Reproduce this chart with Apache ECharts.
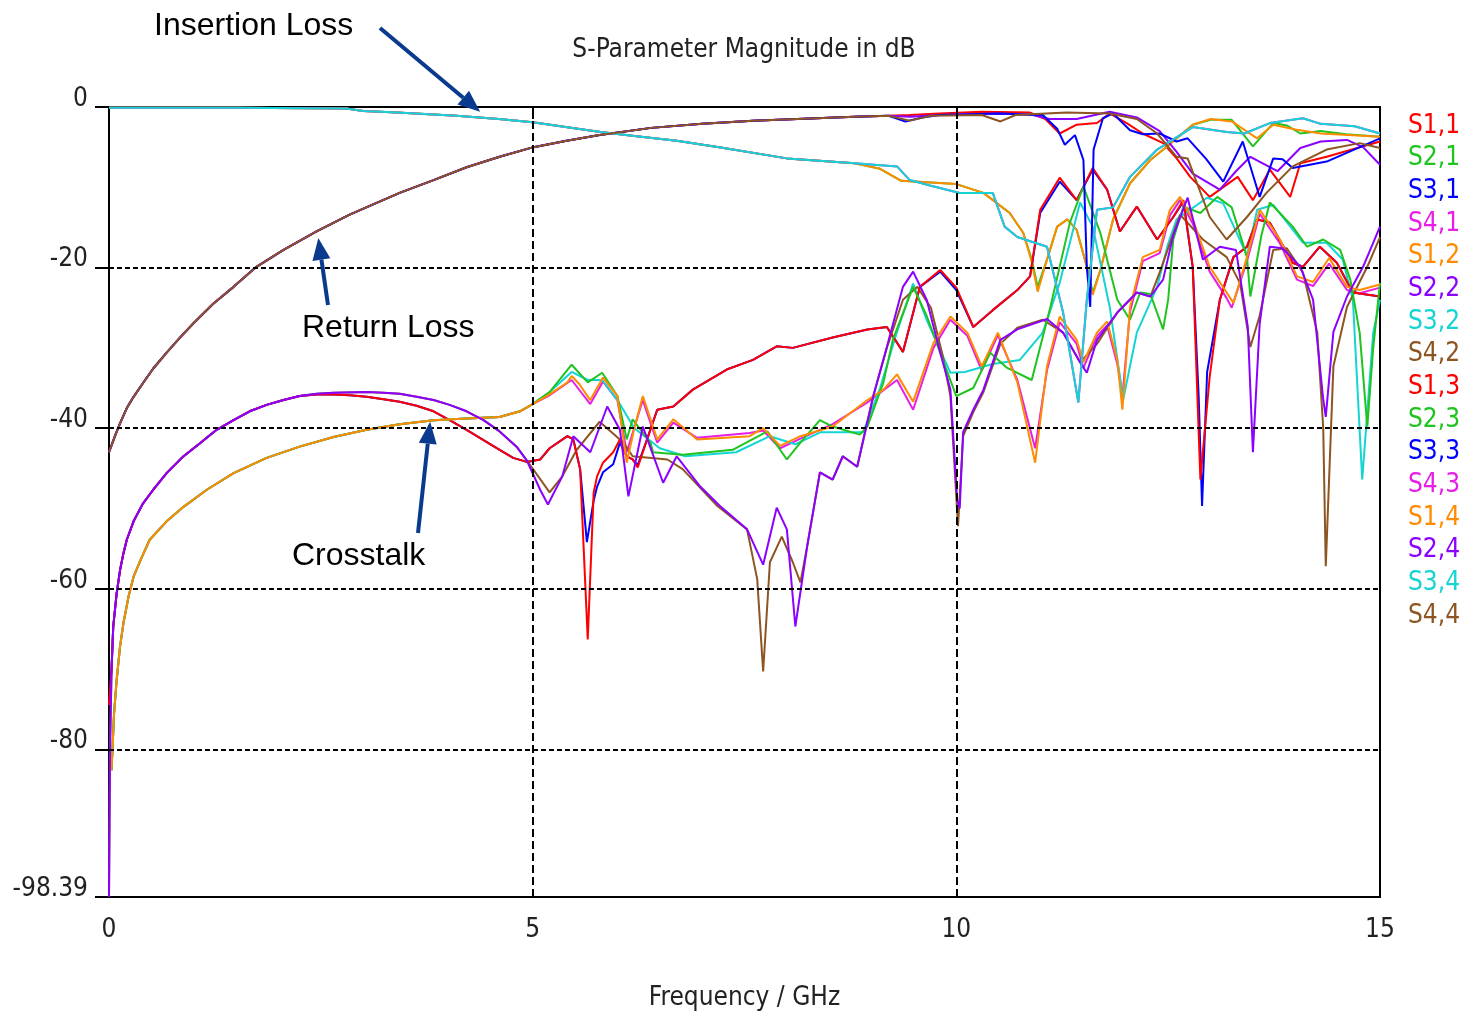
<!DOCTYPE html>
<html>
<head>
<meta charset="utf-8">
<title>S-Parameter Magnitude in dB</title>
<script src="https://cdn.jsdelivr.net/npm/echarts@6/dist/echarts.min.js"></script>
<style>
  html, body { margin: 0; padding: 0; background: #ffffff; }
  #chart { width: 1468px; height: 1013px; }
</style>
</head>
<body>
<div id="chart"></div>
<script>
// ---- Frequency sweep results: [frequency GHz, magnitude dB] ----

// Return loss (reflection) — common low-frequency trace, then per-port tails
const rlBase = [[0,-43],[0.07,-41],[0.13,-39.4],[0.21,-37.5],[0.29,-36.1],[0.4,-34.4],[0.52,-32.6],[0.68,-30.6],[0.84,-28.7],[1.0,-26.9],[1.23,-24.5],[1.47,-22.4],[1.74,-19.9],[2.06,-17.8],[2.45,-15.5],[2.84,-13.4],[3.43,-10.7],[3.83,-9.1],[4.22,-7.5],[4.61,-6.2],[5.01,-5.0],[5.4,-4.2],[5.79,-3.5],[6.4,-2.6],[7.0,-2.1],[7.6,-1.7],[8.2,-1.45],[8.8,-1.2],[9.2,-1.1]];
const s11Tail = [[9.45,-1.0],[9.8,-0.8],[10.3,-0.6],[10.87,-0.7],[11.05,-1.5],[11.22,-3.3],[11.42,-2.2],[11.66,-2.0],[11.81,-0.8],[12.01,-2.0],[12.2,-3.3],[12.44,-4.5],[12.6,-6.4],[12.76,-8.7],[12.99,-11.2],[13.32,-8.7],[13.5,-11.6],[13.7,-7.8],[13.94,-11.2],[14.06,-7.0],[14.37,-6.2],[14.7,-5.2],[15.0,-4.3]];
const s22Tail = [[9.45,-1.2],[9.8,-1.0],[10.5,-0.8],[10.9,-1.0],[11.1,-1.5],[11.42,-1.5],[11.81,-0.6],[12.13,-1.3],[12.4,-3.0],[12.6,-5.6],[12.79,-8.3],[13.11,-10.3],[13.3,-8.0],[13.47,-6.2],[13.79,-8.0],[14.06,-5.1],[14.3,-4.3],[14.61,-4.1],[14.8,-5.0],[15.0,-7.2]];
const s33Tail = [[9.4,-1.8],[9.6,-1.3],[9.8,-1.0],[10.5,-0.8],[11.02,-1.0],[11.19,-2.7],[11.28,-4.7],[11.4,-3.5],[11.5,-6.6],[11.54,-19.9],[11.58,-24.9],[11.62,-5.3],[11.73,-1.4],[11.85,-0.8],[12.05,-2.9],[12.2,-3.4],[12.4,-3.3],[12.6,-4.3],[12.73,-3.9],[12.95,-6.5],[13.15,-9.3],[13.38,-4.3],[13.58,-11.2],[13.74,-6.4],[13.85,-6.5],[13.97,-7.6],[14.37,-6.8],[15.0,-3.9]];
const s44Tail = [[9.45,-1.7],[9.7,-1.1],[10.3,-1.0],[10.52,-1.8],[10.7,-1.0],[11.3,-0.7],[11.81,-0.8],[12.13,-1.5],[12.37,-3.3],[12.6,-6.2],[12.73,-6.4],[12.99,-13.7],[13.19,-16.5],[13.43,-13.7],[13.66,-10.7],[13.97,-7.4],[14.37,-5.3],[14.76,-4.5],[15.0,-5.1]];

// Insertion loss (through paths)
const ilBase = [[0,-0.1],[1.5,-0.1],[2.8,-0.2],[3.0,-0.5],[3.4,-0.7],[4.1,-1.1],[4.6,-1.5],[5.0,-1.9],[5.8,-3.1],[6.2,-3.6],[6.7,-4.2],[7.2,-5.0],[8.0,-6.4],[8.8,-7.0]];
const s21Tail = [[9.1,-7.7],[9.35,-9.2],[9.7,-9.4],[10.0,-9.6],[10.32,-10.7],[10.63,-13.2],[10.79,-15.7],[10.89,-19],[10.96,-22.4],[11.07,-19],[11.19,-14.9],[11.31,-14.0],[11.42,-15.3],[11.54,-19.9],[11.61,-23.1],[11.7,-20.3],[11.85,-14.0],[12.05,-9.5],[12.29,-6.6],[12.49,-4.9],[12.79,-2.2],[13.0,-1.6],[13.25,-1.6],[13.5,-4.9],[13.74,-2.0],[13.9,-2.3],[14.06,-3.3],[14.3,-3.0],[14.6,-3.4],[15.0,-3.7]];
const s12Tail = [[9.1,-7.7],[9.35,-9.2],[9.7,-9.4],[10.0,-9.6],[10.32,-10.7],[10.63,-13.2],[10.79,-15.7],[10.89,-19.3],[10.96,-23.0],[11.07,-19],[11.19,-14.9],[11.31,-14.0],[11.42,-15.3],[11.54,-19.9],[11.61,-23.4],[11.7,-20.3],[11.85,-14.0],[12.05,-9.5],[12.29,-6.6],[12.49,-4.9],[12.79,-2.2],[13.0,-1.5],[13.25,-1.8],[13.55,-3.9],[13.74,-2.2],[14.0,-2.8],[14.3,-3.3],[15.0,-3.7]];
const s34Tail = [[9.3,-7.4],[9.45,-9.1],[9.7,-9.8],[10.04,-10.7],[10.43,-10.7],[10.57,-14.9],[10.72,-16.2],[11.07,-17.4],[11.26,-25.6],[11.44,-36.8],[11.54,-24],[11.66,-12.8],[11.85,-12.5],[12.05,-8.7],[12.37,-5.3],[12.79,-2.5],[13.19,-3.1],[13.4,-3.3],[13.7,-2.0],[14.09,-1.4],[14.3,-2.1],[14.7,-2.4],[15.0,-3.3]];

// Far-end crosstalk
const fextBase = [[0.03,-82.6],[0.06,-75.5],[0.09,-71.4],[0.13,-67.2],[0.17,-64.3],[0.23,-61.0],[0.29,-58.5],[0.39,-56.0],[0.48,-53.9],[0.68,-51.6],[0.88,-49.8],[1.15,-47.7],[1.47,-45.6],[1.86,-43.7],[2.25,-42.3],[2.65,-41.1],[3.04,-40.2],[3.43,-39.5],[3.83,-39.0],[4.22,-38.8],[4.61,-38.6],[4.85,-37.9]];
const s14Tail = [[5.0,-37.0],[5.2,-35.8],[5.41,-34.3],[5.46,-33.5],[5.55,-34.5],[5.68,-36.5],[5.83,-33.7],[6.0,-36],[6.11,-44.3],[6.2,-40],[6.3,-36],[6.47,-41.4],[6.66,-38.9],[6.94,-41.4],[7.56,-41],[7.72,-40],[7.92,-42.2],[8.16,-41],[8.54,-39.8],[8.95,-36.5],[9.14,-35.2],[9.3,-33.3],[9.49,-36.7],[9.73,-29.4],[9.93,-26.1],[10.13,-28.1],[10.3,-32.3],[10.49,-28.1],[10.72,-34.3],[10.93,-44.3],[11.07,-32.3],[11.22,-26.1],[11.42,-29],[11.5,-31.8],[11.66,-28.1],[11.78,-26.7],[11.9,-31.5],[11.96,-37.7],[12.05,-24.9],[12.2,-18.7],[12.4,-17.8],[12.52,-12.8],[12.64,-11.2],[12.79,-14.0],[12.99,-19.9],[13.19,-23.1],[13.27,-24.4],[13.43,-18.7],[13.58,-12.8],[13.82,-16.5],[14.02,-21.1],[14.21,-21.8],[14.4,-18.8],[14.61,-22.4],[14.76,-22.8],[15.0,-22.1]];
const s41Tail = [[5.0,-37.0],[5.2,-35.9],[5.46,-34],[5.68,-37],[5.83,-34.2],[6.0,-36.5],[6.11,-43],[6.3,-36.5],[6.47,-41.8],[6.66,-39.3],[6.94,-41.2],[7.56,-40.6],[7.72,-40.3],[7.92,-42.5],[8.16,-41.3],[8.54,-39.5],[8.95,-36.8],[9.3,-34],[9.49,-37.7],[9.73,-30],[9.93,-26.5],[10.13,-28.5],[10.3,-32.8],[10.49,-28.4],[10.72,-34],[10.93,-42.5],[11.07,-32.8],[11.22,-26.8],[11.42,-29.5],[11.5,-32.5],[11.66,-28.5],[11.78,-27.2],[11.9,-32],[11.96,-36],[12.05,-25.5],[12.2,-19.2],[12.4,-18.2],[12.52,-13.5],[12.64,-11.6],[12.79,-14.5],[12.99,-20.5],[13.19,-23.8],[13.25,-25],[13.43,-19.2],[13.58,-13.3],[13.82,-17],[14.02,-21.5],[14.21,-22.3],[14.4,-19.5],[14.61,-22.8],[14.76,-23.2],[15.0,-22.5]];
const s23Tail = [[5.0,-37.0],[5.2,-35.5],[5.46,-32.1],[5.65,-34.3],[5.82,-33.1],[6.0,-36],[6.11,-41.4],[6.18,-38.9],[6.39,-41.8],[6.42,-43],[6.77,-43.3],[7.36,-42.7],[7.77,-40.4],[8.0,-43.9],[8.16,-41.8],[8.39,-39],[8.54,-39.8],[8.86,-40.8],[8.95,-39.8],[9.14,-34.3],[9.25,-29],[9.49,-22.4],[9.65,-26],[9.84,-31.5],[10.0,-36],[10.2,-35],[10.4,-30.6],[10.6,-32.5],[10.89,-34],[11.11,-24.9],[11.34,-14.4],[11.5,-9.9],[11.7,-15.7],[11.9,-24],[12.05,-26.5],[12.17,-23.1],[12.29,-23.3],[12.44,-27.7],[12.5,-24],[12.56,-16.5],[12.68,-12.4],[12.88,-13.2],[13.08,-11.2],[13.25,-12.5],[13.43,-18.7],[13.47,-23.6],[13.6,-16],[13.7,-11.9],[13.97,-14.9],[14.14,-17.4],[14.33,-16.5],[14.53,-17.8],[14.65,-21.5],[14.76,-28.1],[14.85,-39.8],[14.92,-30],[15.0,-21.9]];
const s32Tail = [[5.0,-37.0],[5.2,-35.5],[5.46,-33],[5.65,-34],[5.82,-34],[6.0,-36.5],[6.2,-40],[6.5,-42.5],[6.8,-43.5],[7.4,-43],[7.8,-41],[8.1,-42],[8.4,-40.5],[8.9,-40.5],[9.1,-35],[9.3,-28],[9.49,-22],[9.65,-26.5],[9.84,-31],[9.93,-33.1],[10.1,-33],[10.43,-32],[10.75,-31.5],[11.02,-28.1],[11.22,-21.9],[11.46,-11.9],[11.61,-14.9],[11.81,-24.9],[11.97,-36.4],[12.13,-28.1],[12.37,-22.4],[12.5,-17],[12.6,-14],[12.96,-11.3],[13.15,-12],[13.31,-15.7],[13.43,-18.5],[13.55,-12.8],[13.74,-12.2],[14.09,-16.9],[14.37,-16.9],[14.56,-19],[14.68,-24],[14.79,-46.4],[14.92,-28.1],[15.0,-24]];

// Near-end crosstalk
const nextRedBase = [[0,-74.5],[0.03,-70],[0.05,-64.7],[0.09,-60.6],[0.13,-57.7],[0.17,-55.6],[0.21,-53.9],[0.29,-51.6],[0.4,-49.4],[0.52,-47.7],[0.68,-45.6],[0.88,-43.5],[1.07,-41.9],[1.27,-40.2],[1.47,-39.0],[1.66,-37.9],[1.86,-37.1],[2.06,-36.5],[2.25,-36.0],[2.45,-35.8],[2.65,-35.8],[2.84,-35.9],[3.04,-36.1],[3.24,-36.4],[3.43,-36.7],[3.63,-37.2],[3.83,-37.9],[4.02,-39.0],[4.22,-40.2],[4.42,-41.5],[4.61,-42.7],[4.77,-43.7],[4.93,-44.2],[5.09,-43.9]];
const s13Tail = [[5.2,-42.5],[5.41,-41],[5.48,-41.4],[5.56,-45.1],[5.65,-66.3],[5.72,-48],[5.76,-46],[5.83,-44.3],[5.95,-43],[6.03,-41.4],[6.11,-43.5],[6.18,-43.9],[6.24,-44.9],[6.35,-41.4],[6.47,-37.7],[6.66,-37.3],[6.89,-35.2],[7.29,-32.7],[7.6,-31.5],[7.88,-29.8],[8.07,-30],[8.54,-28.7],[8.95,-27.7],[9.18,-27.4],[9.37,-30.5],[9.57,-22.4],[9.81,-20.3],[10.0,-22.5],[10.2,-27.4],[10.43,-25.3],[10.72,-22.8],[10.87,-21.1],[10.99,-12.8],[11.22,-8.8],[11.42,-11.6],[11.61,-7.6],[11.78,-10.3],[11.93,-15.5],[12.13,-12.4],[12.37,-16.5],[12.56,-13.7],[12.68,-11.6],[12.79,-19.9],[12.88,-46.4],[12.99,-33.6],[13.11,-24],[13.27,-18.7],[13.43,-17.4],[13.55,-14],[13.7,-14.4],[13.97,-19.4],[14.09,-19.9],[14.29,-17.4],[14.49,-19.4],[14.68,-23.1],[15.0,-23.6]];
const s31Tail = [[5.2,-42.5],[5.41,-41],[5.48,-41.4],[5.56,-45.1],[5.64,-54.2],[5.72,-49],[5.76,-47.3],[5.83,-45.5],[5.95,-44.5],[6.03,-41.8],[6.11,-43.5],[6.18,-43.9],[6.24,-44.6],[6.35,-41.4],[6.47,-37.7],[6.66,-37.3],[6.89,-35.2],[7.29,-32.7],[7.6,-31.5],[7.88,-29.8],[8.07,-30],[8.54,-28.7],[8.95,-27.7],[9.18,-27.4],[9.37,-30.5],[9.57,-22.4],[9.81,-20.5],[10.0,-22.8],[10.2,-27.4],[10.43,-25.3],[10.72,-22.8],[10.87,-21.1],[10.99,-13.2],[11.22,-9.3],[11.42,-11.6],[11.61,-7.8],[11.78,-10.3],[11.93,-15.5],[12.13,-12.4],[12.37,-16.5],[12.56,-13.7],[12.68,-11.8],[12.79,-19.9],[12.86,-36],[12.9,-49.7],[12.96,-33],[13.11,-24],[13.27,-18.7],[13.43,-17.4],[13.55,-14],[13.7,-14.4],[13.97,-19.4],[14.09,-19.9],[14.29,-17.4],[14.49,-19.4],[14.68,-23.1],[15.0,-23.6]];
const nextPurpleBase = [[0,-98.39],[0.012,-80],[0.03,-70.1],[0.05,-64.7],[0.09,-60.6],[0.13,-57.7],[0.17,-55.6],[0.21,-53.9],[0.29,-51.6],[0.4,-49.4],[0.52,-47.7],[0.68,-45.6],[0.88,-43.5],[1.07,-41.9],[1.27,-40.2],[1.47,-39.0],[1.66,-37.9],[1.86,-37.1],[2.06,-36.5],[2.25,-36.0],[2.45,-35.7],[2.65,-35.6],[3.04,-35.5],[3.24,-35.6],[3.43,-35.7],[3.63,-36.1],[3.83,-36.5],[4.02,-37.1],[4.22,-37.9],[4.42,-39.0],[4.61,-40.4],[4.81,-42.3],[4.93,-44.0]];
const s24Tail = [[5.09,-47.7],[5.18,-49.5],[5.35,-46],[5.48,-41],[5.68,-43],[5.88,-37.3],[6.03,-40.2],[6.13,-48.5],[6.3,-39.8],[6.54,-46.8],[6.7,-43.5],[6.98,-47.3],[7.21,-49.7],[7.53,-52.6],[7.72,-57],[7.88,-49.9],[8.0,-52.6],[8.1,-64.7],[8.24,-54.7],[8.39,-45.5],[8.54,-46.4],[8.66,-43.5],[8.83,-44.8],[9.02,-36],[9.18,-29.9],[9.37,-22.4],[9.49,-20.5],[9.65,-24],[9.81,-30.6],[9.93,-35.2],[10.01,-48.9],[10.04,-50],[10.08,-40.5],[10.2,-37.7],[10.32,-35.2],[10.52,-29],[10.72,-27.7],[11.07,-26.4],[11.26,-28.1],[11.46,-31.8],[11.54,-33.1],[11.66,-29],[11.9,-25.6],[12.13,-23.1],[12.29,-23.6],[12.44,-21.5],[12.56,-16],[12.73,-11.3],[12.91,-19],[13.11,-17.4],[13.3,-17.8],[13.44,-27.4],[13.5,-43],[13.58,-27],[13.7,-17.4],[13.85,-17.6],[14.06,-19.9],[14.21,-24],[14.33,-36.4],[14.36,-38.6],[14.45,-28],[14.61,-23.6],[14.8,-19.9],[15.0,-14.9]];
const s42Tail = [[5.2,-48],[5.35,-46],[5.52,-42.7],[5.79,-39.2],[6.07,-41.8],[6.18,-43.5],[6.59,-43.9],[6.77,-45.1],[7.18,-49.7],[7.53,-52.6],[7.65,-58.8],[7.72,-70.3],[7.8,-56.7],[7.94,-53.5],[8.07,-56.7],[8.16,-59.2],[8.24,-54.7],[8.39,-45.5],[8.54,-46.4],[8.66,-43.5],[8.83,-44.8],[9.02,-36],[9.18,-30],[9.37,-24],[9.54,-22.4],[9.7,-25],[9.84,-31],[9.93,-36],[10.02,-52.2],[10.08,-41],[10.2,-38],[10.32,-35.5],[10.52,-29.5],[10.72,-27.5],[11.02,-26.5],[11.26,-28.1],[11.46,-31.8],[11.66,-29.5],[11.9,-25.6],[12.13,-23.1],[12.29,-23.6],[12.4,-20.6],[12.64,-13.4],[12.91,-16.5],[13.19,-18.7],[13.35,-22],[13.47,-29.9],[13.58,-26],[13.74,-17.8],[13.9,-17.6],[14.09,-20.6],[14.26,-28.1],[14.33,-40],[14.36,-57.2],[14.45,-32.3],[14.61,-24.9],[14.85,-19.9],[15.0,-16.2]];

// ---- Series names, colours and axis ticks ----
const seriesNames = ['S1,1','S2,1','S3,1','S4,1','S1,2','S2,2','S3,2','S4,2','S1,3','S2,3','S3,3','S4,3','S1,4','S2,4','S3,4','S4,4'];
const seriesColors = ['#ff0000','#1fc41f','#0000ff','#e61ee6','#ff8c00','#8b00ff','#14d4d4','#8c5521','#ff0000','#1fc41f','#0000ff','#e61ee6','#ff8c00','#8b00ff','#14d4d4','#8c5521'];
const seriesData = [
  rlBase.concat(s11Tail),        // S1,1
  ilBase.concat(s21Tail),        // S2,1
  nextRedBase.concat(s31Tail),   // S3,1
  fextBase.concat(s41Tail),      // S4,1
  ilBase.concat(s12Tail),        // S1,2
  rlBase.concat(s22Tail),        // S2,2
  fextBase.concat(s32Tail),      // S3,2
  nextPurpleBase.concat(s42Tail),// S4,2
  nextRedBase.concat(s13Tail),   // S1,3
  fextBase.concat(s23Tail),      // S2,3
  rlBase.concat(s33Tail),        // S3,3
  ilBase.concat(s34Tail),        // S4,3 (reciprocal of S3,4)
  fextBase.concat(s14Tail),      // S1,4
  nextPurpleBase.concat(s24Tail),// S2,4
  ilBase.concat(s34Tail),        // S3,4
  rlBase.concat(s44Tail)         // S4,4
];
const yTicks = [-98.39, -80, -60, -40, -20, 0];
const xTicks = [0, 5, 10, 15];
const gridY = [-20, -40, -60, -80];
const gridX = [5, 10];

const UI_FONT = '"DejaVu Sans Condensed", "Liberation Sans", sans-serif';
const NOTE_FONT = '"Liberation Sans", Arial, sans-serif';
const NAVY = '#0a3a8e';

const chart = echarts.init(document.getElementById('chart'), null, { renderer: 'canvas' });

const lineSeries = seriesNames.map((name, i) => ({
  name: name,
  type: 'line',
  data: seriesData[i],
  showSymbol: false,
  symbol: 'none',
  lineStyle: { width: 2, color: seriesColors[i] },
  itemStyle: { color: seriesColors[i] },
  emphasis: { disabled: true },
  z: 3
}));

// dashed reference grid
const gridSeries = {
  name: 'grid',
  type: 'line',
  data: [],
  silent: true,
  z: 4,
  markLine: {
    silent: true,
    symbol: 'none',
    label: { show: false },
    animation: false,
    lineStyle: { color: '#000', width: 2 },
    data: gridY.map(v => ({ yAxis: v, lineStyle: { type: [5, 3], color: '#000', width: 2 } }))
      .concat(gridX.map(v => ({ xAxis: v, lineStyle: { type: [8, 4], color: '#000', width: 2 } })))
  }
};

chart.setOption({
  animation: false,
  backgroundColor: '#ffffff',
  title: {
    text: 'S-Parameter Magnitude in dB',
    left: 739,
    top: 32,
    textAlign: 'center',
    textStyle: { fontFamily: UI_FONT, fontSize: 26, fontWeight: 'normal', color: '#222' }
  },
  legend: {
    orient: 'vertical',
    left: 1398,
    top: 106,
    itemWidth: 0,
    itemHeight: 0,
    itemGap: 2.67,
    icon: 'rect',
    selectedMode: false,
    textStyle: { fontFamily: UI_FONT, fontSize: 26, lineHeight: 30 },
    data: seriesNames.map((n, i) => ({ name: n, textStyle: { color: seriesColors[i] } }))
  },
  grid: {
    left: 109,
    right: 88,
    top: 107,
    bottom: 116,
    show: true,
    borderColor: '#000',
    borderWidth: 2,
    containLabel: false,
    outerBoundsMode: 'none'
  },
  xAxis: {
    type: 'value',
    min: 0,
    max: 15,
    interval: 5,
    name: 'Frequency / GHz',
    nameLocation: 'middle',
    nameGap: 88,
    nameTextStyle: { fontFamily: UI_FONT, fontSize: 26, color: '#222' },
    axisLine: { show: true, lineStyle: { color: '#000', width: 2 } },
    axisTick: { show: true, inside: false, length: 12, lineStyle: { color: '#000', width: 2 } },
    axisLabel: { fontFamily: UI_FONT, fontSize: 26, color: '#222', margin: 20, customValues: xTicks },
    splitLine: { show: false }
  },
  yAxis: {
    type: 'value',
    min: -98.39,
    max: 0,
    axisLine: { show: true, lineStyle: { color: '#000', width: 2 } },
    axisTick: { show: true, inside: false, length: 14, customValues: yTicks, lineStyle: { color: '#000', width: 2 } },
    axisLabel: {
      fontFamily: UI_FONT, fontSize: 26, color: '#222', margin: 21,
      customValues: yTicks,
      verticalAlign: 'bottom',
      lineHeight: 16,
      formatter: v => String(v)
    },
    splitLine: { show: false }
  },
  series: [gridSeries].concat(lineSeries)
});

// ---- Annotations with arrows pointing at the curve families ----
function arrow(x1, y1, x2, y2) {
  const ang = Math.atan2(y2 - y1, x2 - x1);
  const L = 22, W = 9;
  const bx = x2 - L * Math.cos(ang), by = y2 - L * Math.sin(ang);
  const nx = -Math.sin(ang), ny = Math.cos(ang);
  return [
    { type: 'line', shape: { x1: x1, y1: y1, x2: bx, y2: by }, style: { stroke: NAVY, lineWidth: 4 }, z: 100 },
    { type: 'polygon', shape: { points: [[x2, y2], [bx + W * nx, by + W * ny], [bx - W * nx, by - W * ny]] }, style: { fill: NAVY }, z: 100 }
  ];
}
function note(text, x, y) {
  return { type: 'text', x: x, y: y, z: 100, style: { text: text, fontFamily: NOTE_FONT, fontSize: 32, fill: '#000', verticalAlign: 'middle', align: 'left' } };
}
const toPx = p => chart.convertToPixel({ xAxisIndex: 0, yAxisIndex: 0 }, p);
const ilTip = toPx([4.38, -0.6]);
const rlTip = toPx([2.47, -16.3]);
const xtTip = toPx([3.79, -39.2]);

chart.setOption({
  graphic: [
    note('Insertion Loss', 154, 26),
    note('Return Loss', 302, 328),
    note('Crosstalk', 292, 556)
  ].concat(
    arrow(380, 28, ilTip[0], ilTip[1]),
    arrow(328, 305, rlTip[0], rlTip[1]),
    arrow(418, 533, xtTip[0], xtTip[1])
  )
});
</script>
</body>
</html>
